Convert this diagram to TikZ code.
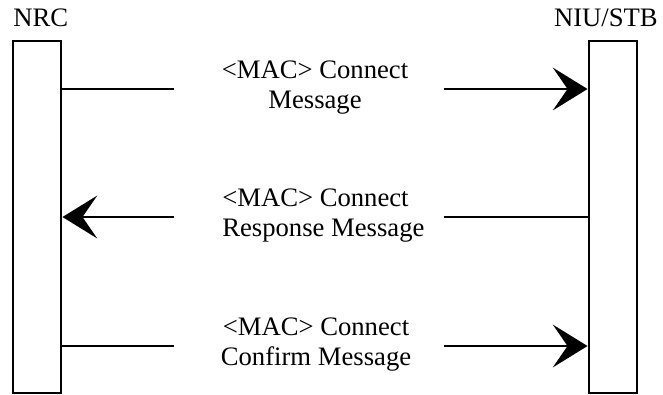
\documentclass[tikz,border=0pt]{standalone}
\usepackage{fontspec}
\setmainfont{Liberation Serif}
\usetikzlibrary{arrows.meta, positioning}

\tikzset{
  bar/.style={draw, line width=2.2pt, minimum width=36pt, minimum height=264pt, inner sep=0pt},
  msg/.style={line width=2pt},
  tip/.style={-{Stealth[length=26pt, width=32pt, inset=11pt]}},
  lbl/.style={font=\fontsize{20}{22.5}\selectfont, inner sep=0pt},
}

\begin{document}
\begin{tikzpicture}[x=0.75pt, y=-0.75pt]

    % 1. Rahmen (Bildgroesse)
    \useasboundingbox (0,0) rectangle (663,394);

    % 2. Die beiden Stationen
    \node[bar] (nrc) at (37,217) {};
    \node[bar] (stb) at (613,217) {};
    \node[lbl, anchor=base west] (nrclbl) at (13,26) {NRC};
    \node[lbl, anchor=base east] (stblbl) at (658,26) {NIU/STB};

    % 3. Enden der Pfeilstuecke neben den Texten
    \coordinate (a1) at (174,89);
    \coordinate (b1) at (444,89);
    \coordinate (a2) at (174,217);
    \coordinate (b2) at (444,217);
    \coordinate (a3) at (174,346);
    \coordinate (b3) at (444,346);

    % 4. Nachrichten
    % Connect: NRC -> NIU/STB
    \draw[msg] (nrc.east |- a1) -- (a1);
    \draw[msg, tip] (b1) -- (stb.west |- b1);
    \node[lbl, align=center] (conn) at (315,88) {<MAC> Connect\\Message};

    % Connect Response: NIU/STB -> NRC
    \draw[msg, tip] (a2) -- (nrc.east |- a2);
    \draw[msg] (stb.west |- b2) -- (b2);
    \node[lbl, align=left, anchor=west] (resp) at (222,216) {<MAC> Connect\\Response Message};

    % Connect Confirm: NRC -> NIU/STB
    \draw[msg] (nrc.east |- a3) -- (a3);
    \draw[msg, tip] (b3) -- (stb.west |- b3);
    \node[lbl, align=center] (conf) at (316,345) {<MAC> Connect\\Confirm Message};

\end{tikzpicture}
\end{document}
